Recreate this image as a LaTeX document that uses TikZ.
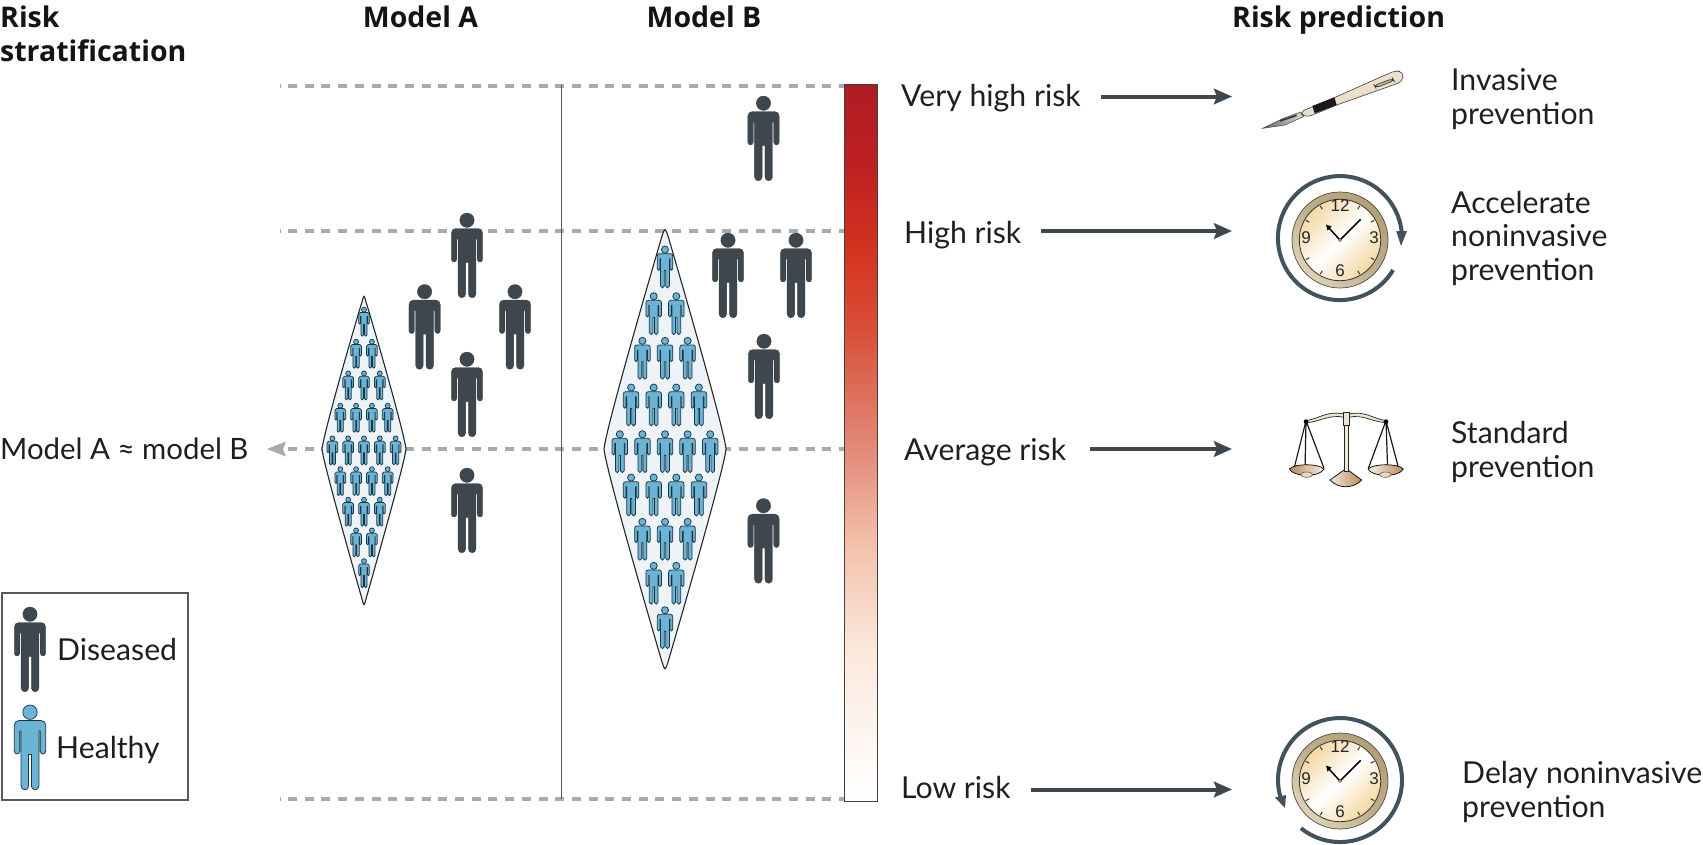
\documentclass[tikz,border=0pt]{standalone}
\usepackage{fontspec}
\setmainfont{Lato}
\newfontfamily\headfont[BoldFont={Open Sans Bold}]{Open Sans}
\newfontfamily\clockfont{Liberation Sans}
\usetikzlibrary{arrows.meta,calc}
\definecolor{dis}{HTML}{3D474D}
\definecolor{hea}{HTML}{6BB4D6}
\definecolor{heaedge}{HTML}{1C3542}
\definecolor{dashgray}{HTML}{A7ABAD}
\definecolor{loopc}{HTML}{42525B}
\definecolor{cream}{HTML}{F3D8A4}
\definecolor{rimA}{HTML}{B3A075}
\definecolor{rimB}{HTML}{DDD2B4}
\definecolor{ba}{HTML}{AE1C24}
\definecolor{bb}{HTML}{BD2022}
\definecolor{bc}{HTML}{D4321E}
\definecolor{bd}{HTML}{D84F38}
\definecolor{be}{HTML}{E38E7D}
\definecolor{bf}{HTML}{F2C0AA}
\definecolor{bg}{HTML}{FBE8DC}
\definecolor{tanL}{HTML}{E6D8BE}
\definecolor{tanD}{HTML}{B98A5E}
\definecolor{diafill}{HTML}{EEF3F7}
\pgfdeclareverticalshading{riskbar}{100bp}{color(0bp)=(white); color(25bp)=(white); color(35.5bp)=(bg); color(43bp)=(bf); color(49bp)=(be); color(58bp)=(bd); color(63.5bp)=(bc); color(69.5bp)=(bb); color(75bp)=(ba); color(100bp)=(ba)}
\tikzset{
  x=1pt,y=-1pt,
  txt/.style={font=\fontsize{30.2}{30.2}\selectfont,anchor=base west,inner sep=0pt,text=black!88},
  head/.style={font=\headfont\bfseries\fontsize{28.5}{28.5}\selectfont,inner sep=0pt,text=black!92},
  dashline/.style={draw=dashgray,line width=4pt,dash pattern=on 9pt off 7.7pt,dash phase=8.5pt},
  riskarrow/.style={draw=dis,line width=4pt,-{Stealth[length=18pt,width=15.5pt,inset=3pt]}},
  looparc/.style={draw=loopc,line width=4pt},
  dbody/.style={fill=dis,draw=dis!80!black,line width=.3pt},
  hbody/.style={fill=hea,draw=heaedge,line width=.75pt},
  dia/.style={fill=diafill,draw=black!85,line width=1.1pt},
}
% cx, top, scale, style
\newcommand\person[4]{%
\begin{scope}[shift={(#1,#2)},xscale=#3,yscale=#3]
\path[#4] (0,7.2) circle[radius=7.2pt];
\path[#4] (-11,15.5) -- (11,15.5) .. controls (14,15.5) and (15.7,17.5) .. (15.7,20.5) -- (15.7,46)
 .. controls (15.7,50) and (10.2,50) .. (10.2,46) -- (10.2,26) -- (8.9,26) -- (8.9,81)
 .. controls (8.9,86) and (1.4,86) .. (1.4,81) -- (1.4,49.5) -- (-1.4,49.5) -- (-1.4,81)
 .. controls (-1.4,86) and (-8.9,86) .. (-8.9,81) -- (-8.9,26) -- (-10.2,26) -- (-10.2,46)
 .. controls (-10.2,50) and (-15.7,50) .. (-15.7,46) -- (-15.7,20.5)
 .. controls (-15.7,17.5) and (-14,15.5) .. (-11,15.5) -- cycle;
\end{scope}}
% cx cy
\newcommand\clockface[2]{%
\begin{scope}[shift={(#1,#2)}]
\shade[left color=rimA,right color=rimB,middle color=rimA!85!white,shading angle=-45,draw=black!70,line width=.7pt] (0,0) circle[radius=48pt];
\shade[left color=cream,right color=cream,middle color=white,shading angle=45,draw=black!80,line width=.8pt] (0,0) circle[radius=40.7pt];
\foreach \a in {30,60,120,150,210,240,300,330}
  \draw[black!85,line width=.9pt] (\a:35.5) -- (\a:39.5);
\node[font=\clockfont\fontsize{17}{17}\selectfont,inner sep=0pt,text=black!85] at (0,-34) {12};
\node[font=\clockfont\fontsize{17}{17}\selectfont,inner sep=0pt,text=black!85] at (0,31) {6};
\node[font=\clockfont\fontsize{17}{17}\selectfont,inner sep=0pt,text=black!85] at (34,-2) {3};
\node[font=\clockfont\fontsize{17}{17}\selectfont,inner sep=0pt,text=black!85] at (-34,-2) {9};
\draw[black,line width=1.5pt] (0,0) -- (20.7,-20.7);
\draw[black,line width=1.5pt] (0,0) -- (-11,-12);
\fill[black] (-14,-15.5) -- (-8.5,-13.5) -- (-12.5,-9.5) -- cycle;
\draw[black!80,fill=white,line width=.5pt] (0,0) circle[radius=1.5pt];
\end{scope}}
\begin{document}
\begin{tikzpicture}
\useasboundingbox (0,0) rectangle (1703,844);
\fill[white] (0,0) rectangle (1703,844);
% dashed levels
\coordinate (da1) at (279.8,86); \coordinate (db1) at (845,86);
\coordinate (da2) at (279.8,231); \coordinate (db2) at (845,231);
\coordinate (da3) at (279.8,449); \coordinate (db3) at (845,449);
\coordinate (da4) at (279.8,799); \coordinate (db4) at (845,799);
\coordinate (tip) at (267,449);
\draw[dashline] (da1) -- (db1);
\draw[dashline] (da2) -- (db2);
\draw[dashline] (da3) -- (db3);
\draw[dashline] (da4) -- (db4);
\fill[white] (267,441) rectangle (287.5,457);
\fill[dashgray] (tip) -- (286,441.5) -- (283,449) -- (286,456.5) -- cycle;
% divider
\coordinate (va) at (561.5,85); \coordinate (vb) at (561.5,799);
\draw[black!65,line width=1.4pt] (va) -- (vb);
% colour bar
\shade[shading=riskbar] (844.5,84.3) rectangle (877.7,801);
\draw[black!75,line width=1pt] (844.5,84.3) rectangle (877.7,801);
% diamonds
\path[dia] (322,449) .. controls (324,466) and (355,574) .. (362,599) .. controls (364,606.5) .. (366,599)
  .. controls (373,574) and (404,466) .. (406,449) .. controls (404,432) and (373,324) .. (366,302)
  .. controls (364,294.5) .. (362,302) .. controls (355,324) and (324,432) .. (322,449) -- cycle;
\path[dia] (604,449) .. controls (606,470) and (652,628) .. (662,662) .. controls (665,671) .. (668,662)
  .. controls (678,628) and (724,470) .. (726,449) .. controls (724,428) and (678,270) .. (668,236)
  .. controls (665,227.5) .. (662,236) .. controls (652,270) and (606,428) .. (604,449) -- cycle;
% healthy, model A
\foreach \y/\n in {307.3/1,339.3/2,371/3,403.3/4,436/5,466.7/4,497.3/3,528/2,558.7/1}{
  \pgfmathsetmacro\xstart{364-(\n-1)*7.9}
  \foreach \i in {1,...,\n}{
    \pgfmathsetmacro\xx{\xstart+(\i-1)*15.8}
    \person{\xx}{\y}{.34}{hbody}
  }}
% healthy, model B
\foreach \y/\n in {246/1,292.7/2,337.3/3,384/4,430.7/5,474/4,518.3/3,562.3/2,606.7/1}{
  \pgfmathsetmacro\xstart{665-(\n-1)*11.3}
  \foreach \i in {1,...,\n}{
    \pgfmathsetmacro\xx{\xstart+(\i-1)*22.6}
    \person{\xx}{\y}{.494}{hbody}
  }}
% diseased
\person{467}{213}{1}{dbody}
\person{424.6}{284.5}{1}{dbody}
\person{515}{284.5}{1}{dbody}
\person{467}{352}{1}{dbody}
\person{467}{468}{1}{dbody}
\person{763.5}{96}{1}{dbody}
\person{728}{233}{1}{dbody}
\person{796}{233}{1}{dbody}
\person{764}{334}{1}{dbody}
\person{763.5}{498.5}{1}{dbody}
% headers
\node[head,anchor=base west] (h1) at (0,27) {Risk};
\node[head,anchor=base west] (h2) at (0,61) {stratification};
\node[head,anchor=base] (h3) at (420.5,27) {Model A};
\node[head,anchor=base] (h4) at (704,27) {Model B};
\node[head,anchor=base west] (h5) at (1232,27) {Risk prediction};
% risk labels
\node[txt] (r1) at (901,106.5) {Very high risk};
\node[txt] (r2) at (904,243.5) {High risk};
\node[txt] (r3) at (904,460) {Average risk};
\node[txt] (r4) at (901,798.5) {Low risk};
\node[txt,font=\fontsize{29.4}{29.4}\selectfont] (mm) at (0,459.5) {Model A ≈ model B};
% arrows
\coordinate (e1) at (1232,96.5); \coordinate (s1) at (1101,96.5);
\coordinate (e2) at (1232,231); \coordinate (s2) at (1041,231);
\coordinate (e3) at (1232,449); \coordinate (s3) at (1090,449);
\coordinate (e4) at (1232,789.5); \coordinate (s4) at (1031,789.5);
\draw[riskarrow] (s1) -- (e1);
\draw[riskarrow] (s2) -- (e2);
\draw[riskarrow] (s3) -- (e3);
\draw[riskarrow] (s4) -- (e4);
% outcome labels
\node[txt] (p1a) at (1451,90) {Invasive};
\node[txt] (p1b) at (1451,124) {prevention};
\node[txt] (p2a) at (1451,213) {Accelerate};
\node[txt] (p2b) at (1451,246.5) {noninvasive};
\node[txt] (p2c) at (1451,280) {prevention};
\node[txt] (p3a) at (1451,443) {Standard};
\node[txt] (p3b) at (1451,477) {prevention};
\node[txt] (p4a) at (1462,783) {Delay noninvasive};
\node[txt] (p4b) at (1462,817) {prevention};
% scalpel
\begin{scope}[shift={(1240,50)},xscale=1/3,yscale=1/3]
\shade[left color=black!60,right color=black!15,draw=black!75,line width=.5pt] (68,235) -- (130,205) -- (182,186) -- (190,200) -- (135,225) -- cycle;
\draw[black!80,line width=1.6pt] (120,213) -- (170,196);
\shade[left color=tanL!60!white,right color=tanL,shading angle=20,draw=black!75,line width=.6pt,rounded corners=5pt] (178,187) -- (285,142) -- (465,62) -- (490,65) -- (488,95) -- (290,165) -- (198,203) -- cycle;
\fill[black!90] (217,168) -- (283,142) -- (290,165) -- (224,190) -- cycle;
\draw[black!80,line width=.7pt,fill=tanD!60!white,rounded corners=3pt] (403,106) -- (458,86) -- (462,92) -- (407,113) -- cycle;
\end{scope}
% clocks
\clockface{1340}{240}
\draw[looparc] (1393.1,270) arc[start angle=-31,end angle=-354.5,radius=62pt];
\fill[loopc] (1396.2,231) -- (1407,231) -- (1401,246) -- cycle;
\clockface{1340}{781}
\draw[looparc] (1301,828.2) arc[start angle=231,end angle=556,radius=62pt];
\fill[loopc] (1275,797.5) -- (1286,795) -- (1285,808) -- cycle;
% scales
\begin{scope}[shift={(1240,390)},xscale=1/3,yscale=1/3]
\draw[black!90,line width=1.2pt] (198,92) -- (163,232) (198,92) -- (195,240) (198,92) -- (252,235);
\draw[black!90,line width=1.2pt] (438,92) -- (385,235) (438,92) -- (443,240) (438,92) -- (475,232);
\shade[left color=tanD,right color=tanL!40!white,draw=black,line width=.7pt] (148,237) .. controls (165,220) and (235,220) .. (252,237) .. controls (240,262) and (160,262) .. (148,237) -- cycle;
\shade[left color=tanL!40!white,right color=tanD,draw=black,line width=.7pt] (384,237) .. controls (400,220) and (475,220) .. (490,237) .. controls (478,262) and (396,262) .. (384,237) -- cycle;
\draw[black!70,fill=tanL,line width=.5pt] (200,254) ellipse[x radius=18pt,y radius=8pt];
\draw[black!70,fill=tanL,line width=.5pt] (436,254) ellipse[x radius=18pt,y radius=8pt];
\shade[left color=tanL!60!white,right color=tanD,draw=black,line width=.7pt] (270,270) -- (312,240) -- (324,240) -- (365,270) .. controls (340,297) and (295,297) .. (270,270) -- cycle;
\draw[black!85,fill=tanL!70!white,line width=.7pt] (198,92) .. controls (240,85) and (260,62) .. (312,72) -- (312,82) .. controls (270,72) and (240,95) .. (200,98) -- cycle;
\draw[black!85,fill=tanL!70!white,line width=.7pt] (438,92) .. controls (396,85) and (376,62) .. (326,72) -- (326,82) .. controls (366,72) and (396,95) .. (436,98) -- cycle;
\draw[black!85,fill=tanL!60!white,line width=.7pt] (312,105) rectangle (326,243);
\draw[black!85,fill=tanL!70!white,line width=.7pt] (309,66) rectangle (329,105);
\fill[black] (198,95) circle[radius=7pt] (438,95) circle[radius=7pt];
\end{scope}
% legend
\draw[black!65,line width=1.2pt] (2,593) rectangle (188,800);
\person{30}{607}{1}{dbody}
\person{30}{705}{1}{hbody}
\node[txt] (l1) at (57,660) {Diseased};
\node[txt] (l2) at (56,758) {Healthy};
\end{tikzpicture}
\end{document}
